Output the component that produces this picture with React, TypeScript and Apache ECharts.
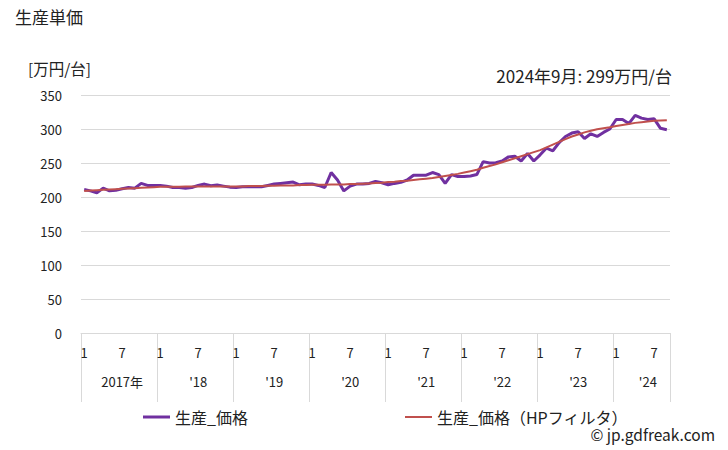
import React, { useEffect, useRef } from "react";
import * as echarts from "echarts";

const startYear = 2017;
const yearTickLabels = ["2017年", "'18", "'19", "'20", "'21", "'22", "'23", "'24"];
const monthsInYear = [12, 12, 12, 12, 12, 12, 12, 9];
const monthTickLabels = [1, 7];

const price2017 = [211, 209, 206, 213, 209, 210, 212, 214, 213, 220, 217, 217];
const price2018 = [217, 216, 214, 214, 213, 214, 217, 219, 216.5, 217.5, 216, 214.5];
const price2019 = [214, 215, 215, 215, 215, 217, 219, 220, 221, 222, 218, 219];
const price2020 = [219, 217, 214, 236, 225, 209, 216, 219, 219, 220, 223, 221];
const price2021 = [218, 220, 221.5, 225, 232, 232, 232, 236, 233, 220, 233, 230];
const price2022 = [230, 231, 233, 252, 250, 250.5, 253, 259, 260, 253, 264, 253];
const price2023 = [262, 272, 268, 280, 289, 294, 296, 286, 293, 289, 295, 300];
const price2024 = [314, 314, 308, 320, 316, 314, 315, 301, 299];

const hp2017 = [209, 209.5, 210, 210.5, 211, 211.5, 212, 212.5, 213, 213.5, 214, 214.5];
const hp2018 = [215, 215, 215, 215, 215.5, 215.5, 215.5, 215.5, 215.5, 215.5, 215.5, 215.5];
const hp2019 = [215.5, 215.5, 216, 216, 216, 216.5, 216.5, 217, 217, 217, 217.5, 217.5];
const hp2020 = [218, 218, 218, 218.5, 218.5, 218.5, 219, 219, 219.5, 220, 220.5, 221];
const hp2021 = [222, 222.5, 223.5, 224, 225, 226, 227, 228, 229.5, 231, 232.5, 234];
const hp2022 = [236, 238, 240, 243, 245.5, 248, 251, 254, 257, 260, 263, 266];
const hp2023 = [269, 273, 277, 281, 285, 289, 292, 295, 297.5, 299.5, 301, 302.5];
const hp2024 = [304.5, 306, 307.5, 309, 310, 311, 312, 312.5, 313];

const price = [...price2017, ...price2018, ...price2019, ...price2020, ...price2021, ...price2022, ...price2023, ...price2024];
const priceHP = [...hp2017, ...hp2018, ...hp2019, ...hp2020, ...hp2021, ...hp2022, ...hp2023, ...hp2024];

const seriesName1 = "生産_価格";
const seriesName2 = "生産_価格（HPフィルタ）";
const latestLabel = "2024年9月";
const unitLabel = "万円/台";

const categories: string[] = [];
const yearLabelAt: Record<number, string> = {};
{
  let idx = 0;
  monthsInYear.forEach((n, yi) => {
    yearLabelAt[idx + Math.ceil(n / 2)] = yearTickLabels[yi];
    for (let m = 1; m <= n; m++) categories.push(`${startYear + yi}-${m}`);
    idx += n;
  });
}

const FONT = "'Noto Sans CJK JP', 'Noto Sans', sans-serif";
const TXT = "#222";
const GRID = "#d9d9d9";

export default function App() {
  const ref = useRef<HTMLDivElement>(null);
  useEffect(() => {
    if (!ref.current) return;
    const chart = echarts.init(ref.current, null, { renderer: "svg" });
    const last = price[price.length - 1];
    chart.setOption({
      animation: false,
      textStyle: { fontFamily: FONT },
      title: {
        text: "生産単価",
        left: 15,
        top: 8,
        padding: 0,
        textStyle: { fontSize: 17, fontWeight: "normal", color: TXT, fontFamily: FONT },
      },
      graphic: [
        {
          type: "text",
          left: 28,
          top: 60,
          style: { text: `[${unitLabel}]`, fontSize: 15.5, fill: TXT, fontFamily: FONT },
        },
        {
          type: "text",
          right: 56,
          top: 67,
          style: { text: `${latestLabel}: ${last}${unitLabel}`, fontSize: 17, fill: TXT, fontFamily: FONT },
        },
        {
          type: "text",
          right: 13,
          top: 426,
          style: { text: "© jp.gdfreak.com", fontSize: 15.5, fill: TXT, fontFamily: FONT },
        },
      ],
      legend: [
        {
          data: [seriesName1],
          left: 143,
          top: 409,
          padding: 0,
          icon: "rect",
          itemWidth: 27,
          itemHeight: 3,
          textStyle: { fontSize: 16, color: TXT, fontFamily: FONT },
        },
        {
          data: [seriesName2],
          left: 405,
          top: 409,
          padding: 0,
          icon: "rect",
          itemWidth: 27,
          itemHeight: 2,
          textStyle: { fontSize: 16, color: TXT, fontFamily: FONT },
        },
      ],
      grid: { left: 81, right: 58, top: 95, bottom: 117, containLabel: false },
      xAxis: [
        {
          type: "category",
          data: categories,
          position: "bottom",
          boundaryGap: true,
          axisLine: { show: true, lineStyle: { color: GRID, width: 1 } },
          axisTick: {
            show: true,
            length: 69,
            lineStyle: { color: GRID },
            interval: (i: number) => i % 12 === 0,
          },
          axisLabel: {
            interval: (_i: number, v: string) => monthTickLabels.includes(Number(v.split("-")[1])),
            formatter: (v: string) => v.split("-")[1],
            margin: 13,
            fontSize: 13,
            color: TXT,
            fontFamily: FONT,
          },
          splitLine: { show: false },
        },
        {
          type: "category",
          data: categories,
          position: "bottom",
          boundaryGap: true,
          axisLine: { show: false },
          axisTick: { show: false },
          axisLabel: {
            interval: (i: number) => yearLabelAt[i] !== undefined,
            formatter: (_v: string, i: number) => yearLabelAt[i] ?? "",
            margin: 42,
            fontSize: 13,
            color: TXT,
            fontFamily: FONT,
          },
          splitLine: { show: false },
        },
      ],
      yAxis: {
        type: "value",
        min: 0,
        max: 350,
        interval: 50,
        axisLine: { show: false },
        axisTick: { show: false },
        axisLabel: { margin: 19, fontSize: 13, color: TXT, fontFamily: FONT },
        splitLine: { lineStyle: { color: GRID, width: 1 } },
      },
      series: [
        {
          name: seriesName1,
          type: "line",
          xAxisIndex: 0,
          data: price,
          showSymbol: false,
          symbol: "none",
          color: "#7030A0",
          itemStyle: { color: "#7030A0" },
          lineStyle: { color: "#7030A0", width: 3 },
          z: 2,
        },
        {
          name: seriesName2,
          type: "line",
          xAxisIndex: 0,
          data: priceHP,
          showSymbol: false,
          symbol: "none",
          color: "#C0504D",
          itemStyle: { color: "#C0504D" },
          lineStyle: { color: "#C0504D", width: 2 },
          z: 3,
        },
      ],
    });
    return () => chart.dispose();
  }, []);
  return (
    <div
      ref={ref}
      style={{ position: "fixed", left: 0, top: 0, width: 728, height: 450, background: "#fff" }}
    />
  );
}
